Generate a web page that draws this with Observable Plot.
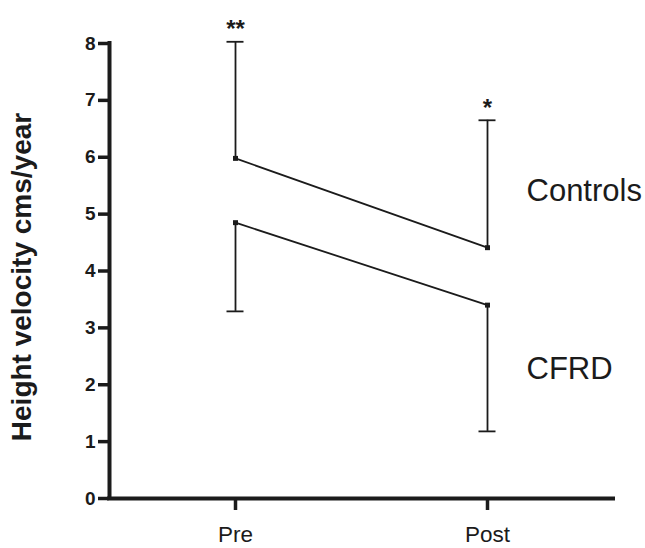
<!DOCTYPE html>
<html>
<head>
<meta charset="utf-8">
<script src="https://cdn.jsdelivr.net/npm/d3@7"></script>
<script src="https://cdn.jsdelivr.net/npm/@observablehq/plot@0.6"></script>
<style>
  html, body { margin: 0; padding: 0; background: #fff; }
  #chart { width: 645px; height: 548px; }
</style>
</head>
<body>
<div id="chart"></div>
<script>
// ---- data ----
const categories = ["Pre", "Post"];
const groups = ["Controls", "CFRD"];
const controlsMean = [5.98, 4.41];
const controlsUpper = [8.03, 6.65];   // mean + error (drawn upward)
const cfrdMean = [4.85, 3.40];
const cfrdLower = [3.29, 1.18];       // mean - error (drawn downward)
const significance = ["**", "*"];
const yTicks = [0, 1, 2, 3, 4, 5, 6, 7, 8];
const groupLabelY = [5.40, 2.27];     // vertical anchor (data units) for series labels
const yTitle = "Height velocity cms/year";

// ---- tables built from the arrays ----
const ink = "#1b1b1b";
const rows = categories.flatMap((c, i) => [
  {group: groups[0], cat: c, xi: i + 0.5, mean: controlsMean[i], err: controlsUpper[i], sig: significance[i]},
  {group: groups[1], cat: c, xi: i + 0.5, mean: cfrdMean[i], err: cfrdLower[i], sig: ""}
]);
const controlsRows = rows.filter(d => d.group === groups[0]);
const catRows = categories.map((c, i) => ({cat: c, xi: i + 0.5}));
const lastX = categories.length - 0.5;
const labelRows = groups.map((g, i) => ({g, xi: lastX, y: groupLabelY[i]}));

const chart = Plot.plot({
  width: 645,
  height: 548,
  marginLeft: 109,
  marginRight: 32,
  marginTop: 43,
  marginBottom: 50,
  style: {fontFamily: "'Liberation Sans', Arial, Helvetica, sans-serif", color: ink, background: "#fff"},
  x: {domain: [0, categories.length], axis: null},
  y: {domain: [0, 8], axis: null},
  marks: [
    // axes
    Plot.ruleY(yTicks, {y: d => d, x1: () => 0, x2: () => 0, insetLeft: -11, stroke: ink, strokeWidth: 3.5}),
    Plot.ruleX(catRows, {x: "xi", y1: () => 0, y2: () => 0, insetBottom: -12, stroke: ink, strokeWidth: 3.5}),
    Plot.ruleX([0], {stroke: ink, strokeWidth: 4, strokeLinecap: "square"}),
    Plot.ruleY([0], {stroke: ink, strokeWidth: 4, strokeLinecap: "square"}),
    Plot.text(yTicks, {x: () => 0, y: d => d, text: d => String(d), textAnchor: "end", dx: -14,
      fontSize: 19, fontWeight: "bold", fill: ink}),
    Plot.text(catRows, {x: "xi", y: () => 0, text: "cat", lineAnchor: "top", dy: 28, fontSize: 22.5, fill: ink}),
    Plot.text([yTitle], {text: d => d, frameAnchor: "left", textAnchor: "middle", rotate: -90, dx: -87, dy: 6,
      fontSize: 28, fontWeight: "bold", fill: ink}),
    // error bars
    Plot.ruleX(rows, {x: "xi", y1: "mean", y2: "err", stroke: ink, strokeWidth: 1.8}),
    Plot.ruleY(rows, {y: "err", x1: "xi", x2: "xi", insetLeft: -8.5, insetRight: -8.5, stroke: ink, strokeWidth: 1.8}),
    // series lines and markers
    Plot.lineY(rows, {x: "xi", y: "mean", z: "group", stroke: ink, strokeWidth: 1.8}),
    Plot.dot(rows, {x: "xi", y: "mean", symbol: "square", r: 2.8, fill: ink}),
    // significance markers
    Plot.text(controlsRows, {x: "xi", y: "err", text: "sig", dy: -12, fontSize: 24, fontWeight: "bold", fill: ink}),
    // series labels
    Plot.text(labelRows, {x: "xi", y: "y", text: "g", textAnchor: "start", dx: 39, fontSize: 31, fill: ink})
  ]
});
document.getElementById("chart").appendChild(chart);
</script>
</body>
</html>
